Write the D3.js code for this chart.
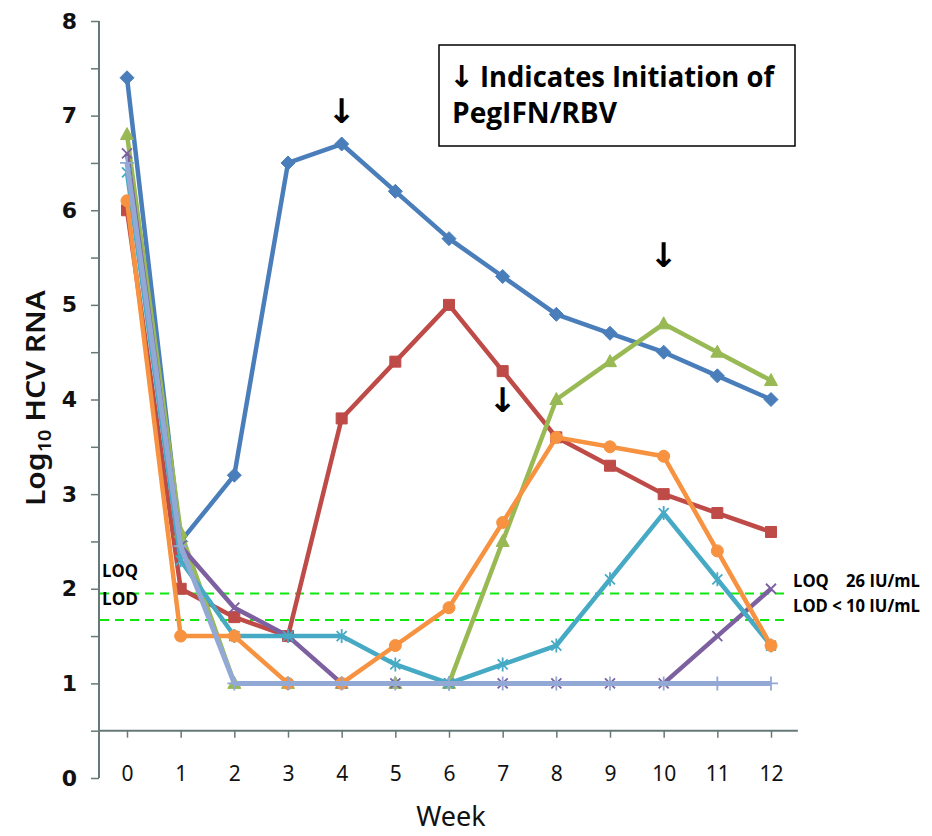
<!DOCTYPE html>
<html>
<head>
<meta charset="utf-8">
<script src="https://cdn.jsdelivr.net/npm/d3@7"></script>
<style>
    body { margin: 0; background: #fff; }
    svg { display: block; }
</style>
</head>
<body>
<span></span>
<script>
let width = 932;
let height = 836;

// data
let weeks = [0, 1, 2, 3, 4, 5, 6, 7, 8, 9, 10, 11, 12];
let blueSeries = [7.4, 2.5, 3.2, 6.5, 6.7, 6.2, 5.7, 5.3, 4.9, 4.7, 4.5, 4.25, 4.0];
let redSeries = [6.0, 2.0, 1.7, 1.5, 3.8, 4.4, 5.0, 4.3, 3.6, 3.3, 3.0, 2.8, 2.6];
let greenSeries = [6.8, 2.6, 1.0, 1.0, 1.0, 1.0, 1.0, 2.5, 4.0, 4.4, 4.8, 4.5, 4.2];
let purpleSeries = [6.6, 2.45, 1.8, 1.5, 1.0, 1.0, 1.0, 1.0, 1.0, 1.0, 1.0, 1.5, 2.0];
let tealSeries = [6.4, 2.3, 1.5, 1.5, 1.5, 1.2, 1.0, 1.2, 1.4, 2.1, 2.8, 2.1, 1.4];
let orangeSeries = [6.1, 1.5, 1.5, 1.0, 1.0, 1.4, 1.8, 2.7, 3.6, 3.5, 3.4, 2.4, 1.4];
let lightBlueSeries = [6.5, 2.45, 1.0, 1.0, 1.0, 1.0, 1.0, 1.0, 1.0, 1.0, 1.0, 1.0, 1.0];

let yTicks = [0, 1, 2, 3, 4, 5, 6, 7, 8];
let limitValues = [1.95, 1.67];
let limitNames = ["LOQ", "LOD"];
let limitNotes = ["LOQ    26 IU/mL", "LOD < 10 IU/mL"];

// weeks where PegIFN/RBV started, and arrow heights
let arrowWeeks = [4, 10, 7];
let arrowLevels = [7.05, 5.53, 4.0];

let series = [
    { values: blueSeries, color: "#4a7ebb", marker: "diamond" },
    { values: redSeries, color: "#be4b48", marker: "square" },
    { values: greenSeries, color: "#98b954", marker: "triangle" },
    { values: purpleSeries, color: "#7d60a0", marker: "x" },
    { values: tealSeries, color: "#46aac5", marker: "star" },
    { values: orangeSeries, color: "#f69240", marker: "circle" },
    { values: lightBlueSeries, color: "#93a9d5", marker: "plus" }
];

let svg = d3.select("span")
    .append("svg")
    .attr("width", width)
    .attr("height", height);

let x = d3.scaleLinear().domain([0, 12]).range([127, 771]);
let y = d3.scaleLinear().domain([0, 8]).range([778, 21]);
let axisColor = "#667878";

// y axis, ticks every 0.5
let yAxis = svg.append("g")
    .attr("transform", "translate(99,0)")
    .call(d3.axisLeft(y)
        .tickValues(d3.range(0, 8.01, 0.5))
        .tickSize(8)
        .tickPadding(14)
        .tickFormat(d => yTicks.includes(d) ? d : ""));
yAxis.select(".domain").attr("stroke", axisColor).attr("stroke-width", 2).attr("d", "M0," + y(8) + "V" + y(0));
yAxis.selectAll(".tick line").attr("stroke", axisColor).attr("stroke-width", 1.5);
yAxis.selectAll(".tick text")
    .style("font-family", "DejaVu Sans")
    .style("font-weight", "bold")
    .style("font-size", "22px")
    .attr("fill", "#111");

// x axis crosses at 0.5
let xAxis = svg.append("g")
    .attr("transform", "translate(0," + y(0.5) + ")")
    .call(d3.axisBottom(x)
        .tickValues(weeks)
        .tickSize(7)
        .tickPadding(28)
        .tickFormat(d3.format("d")));
xAxis.select(".domain").attr("stroke", axisColor).attr("stroke-width", 2).attr("d", "M99,0H" + x(12.5));
xAxis.selectAll(".tick line").attr("stroke", axisColor).attr("stroke-width", 1.5);
xAxis.selectAll(".tick text")
    .style("font-family", "Noto Sans")
    .style("font-size", "21px")
    .attr("fill", "#111");

// axis titles
svg.append("text")
    .attr("x", x(6) + 2)
    .attr("y", 826)
    .attr("text-anchor", "middle")
    .style("font-family", "Noto Sans")
    .style("font-size", "27px")
    .attr("fill", "#111")
    .text("Week");

let yTitle = svg.append("text")
    .attr("transform", "translate(45,398) rotate(-90)")
    .attr("text-anchor", "middle")
    .attr("textLength", 216)
    .attr("lengthAdjust", "spacingAndGlyphs")
    .style("font-family", "Noto Sans")
    .style("font-weight", "600")
    .style("font-size", "27px")
    .attr("fill", "#111");
yTitle.append("tspan").text("Log");
yTitle.append("tspan").attr("dy", 6).style("font-size", "18px").text("10");
yTitle.append("tspan").attr("dy", -6).text(" HCV RNA");

// LOQ / LOD dashed lines
svg.selectAll(".limit")
    .data(limitValues)
    .enter()
    .append("line")
    .attr("x1", 100)
    .attr("x2", 790)
    .attr("y1", d => y(d))
    .attr("y2", d => y(d))
    .attr("stroke", "#0ee80e")
    .attr("stroke-width", 2)
    .attr("stroke-dasharray", "9,6");

svg.selectAll(".limitName")
    .data(limitNames)
    .enter()
    .append("text")
    .attr("x", 102)
    .attr("y", (d, i) => i == 0 ? 577 : 605)
    .attr("textLength", 36)
    .attr("lengthAdjust", "spacingAndGlyphs")
    .style("font-family", "Open Sans")
    .style("font-weight", "bold")
    .style("font-size", "18px")
    .attr("fill", "#000")
    .text(d => d);

svg.selectAll(".limitNote")
    .data(limitNotes)
    .enter()
    .append("text")
    .attr("x", 793)
    .attr("y", (d, i) => i == 0 ? 587 : 612)
    .attr("textLength", 127)
    .attr("lengthAdjust", "spacingAndGlyphs")
    .style("font-family", "Open Sans")
    .style("font-weight", "bold")
    .style("font-size", "17px")
    .style("white-space", "pre")
    .attr("xml:space", "preserve")
    .attr("fill", "#000")
    .text(d => d);

// marker shapes
function markerPath(type) {
    switch (type) {
        case "diamond": return "M0,-7L7,0L0,7L-7,0Z";
        case "square": return "M-5.5,-5.5H5.5V5.5H-5.5Z";
        case "triangle": return "M0,-7L6.5,5L-6.5,5Z";
        case "x": return "M-5,-5L5,5M-5,5L5,-5";
        case "star": return "M-5,-5L5,5M-5,5L5,-5M0,-7V7";
        case "plus": return "M-7,0H7M0,-7V7";
    }
    return null;
}

let line = d3.line()
    .x((d, i) => x(weeks[i]))
    .y(d => y(d));

series.forEach(function (s) {
    let g = svg.append("g");
    g.append("path")
        .attr("d", line(s.values))
        .attr("fill", "none")
        .attr("stroke", s.color)
        .attr("stroke-width", s.marker == "plus" ? 5 : 4.5)
        .attr("stroke-linejoin", "round");

    let open = ["x", "star", "plus"].includes(s.marker);
    g.selectAll(".pt")
        .data(s.values)
        .enter()
        .append(s.marker == "circle" ? "circle" : "path")
        .attr("transform", (d, i) => "translate(" + x(weeks[i]) + "," + y(d) + ")")
        .attr("r", s.marker == "circle" ? 6 : null)
        .attr("d", markerPath(s.marker))
        .attr("fill", open ? "none" : s.color)
        .attr("stroke", s.color)
        .attr("stroke-width", open ? 1.8 : 1);
});

// arrows marking PegIFN/RBV start
svg.selectAll(".arrow")
    .data(arrowWeeks)
    .enter()
    .append("text")
    .attr("x", d => x(d))
    .attr("y", (d, i) => y(arrowLevels[i]))
    .attr("text-anchor", "middle")
    .attr("dominant-baseline", "central")
    .style("font-family", "DejaVu Sans")
    .style("font-weight", "bold")
    .style("font-size", "34px")
    .attr("fill", "#000")
    .text("↓");

// note box
svg.append("rect")
    .attr("x", 439)
    .attr("y", 45)
    .attr("width", 356)
    .attr("height", 101)
    .attr("fill", "#fff")
    .attr("stroke", "#000")
    .attr("stroke-width", 1.5);

let note1 = svg.append("text")
    .attr("x", 449)
    .attr("y", 87)
    .style("font-family", "Open Sans")
    .style("font-weight", "bold")
    .style("font-size", "28px")
    .attr("fill", "#000");
note1.append("tspan")
    .style("font-family", "DejaVu Sans")
    .style("font-size", "30px")
    .text("↓");
note1.append("tspan")
    .attr("x", 480)
    .attr("textLength", 294)
    .attr("lengthAdjust", "spacingAndGlyphs")
    .text("Indicates Initiation of");

svg.append("text")
    .attr("x", 452)
    .attr("y", 123)
    .attr("textLength", 165)
    .attr("lengthAdjust", "spacingAndGlyphs")
    .style("font-family", "Open Sans")
    .style("font-weight", "bold")
    .style("font-size", "28px")
    .attr("fill", "#000")
    .text("PegIFN/RBV");
</script>
</body>
</html>
